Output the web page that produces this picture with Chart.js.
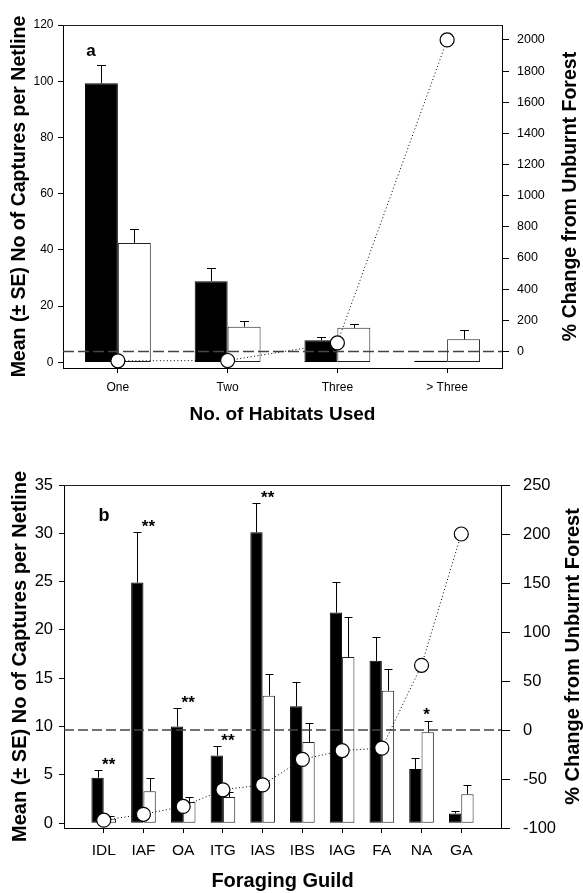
<!DOCTYPE html>
<html>
<head>
<meta charset="utf-8">
<script src="https://cdn.jsdelivr.net/npm/chart.js@4.4.1/dist/chart.umd.min.js"></script>
<style>
  html, body { margin: 0; padding: 0; background: #fff; }
  canvas { display: block; }
</style>
</head>
<body>
<canvas id="chart-a" width="583" height="440"></canvas>
<canvas id="chart-b" width="583" height="453"></canvas>
<script>
// panel a: habitats used
const habitats = ['One', 'Two', 'Three', '> Three'];
const unburntA = [99.3, 28.9, 7.9, 0.6];
const unburntSeA = [6.3, 4.7, 1.2, 0];
const burntA = [42.5, 12.7, 12.3, 8.2];
const burntSeA = [5.0, 2.0, 1.5, 3.3];
const changeA = [-60, -58, 55, 2000];
const leftTicksA = [0, 20, 40, 60, 80, 100, 120];
const rightTicksA = [0, 200, 400, 600, 800, 1000, 1200, 1400, 1600, 1800, 2000];

// panel b: foraging guild
const guilds = ['IDL', 'IAF', 'OA', 'ITG', 'IAS', 'IBS', 'IAG', 'FA', 'NA', 'GA'];
const unburntB = [4.7, 24.9, 10.0, 7.0, 30.1, 12.1, 21.8, 16.8, 5.6, 1.0];
const unburntSeB = [0.8, 5.2, 1.9, 1.0, 3.0, 2.5, 3.2, 2.5, 1.1, 0.3];
const burntB = [0.45, 3.3, 2.2, 2.7, 13.2, 8.4, 17.2, 13.7, 9.4, 3.0];
const burntSeB = [0.25, 1.4, 0.5, 0.5, 2.2, 2.0, 4.1, 2.3, 1.2, 0.9];
const changeB = [-92, -86, -78, -61, -56, -30, -21, -18.5, 66, 200];
const starsB = ['**', '**', '**', '**', '**', '', '', '', '*', ''];
const leftTicksB = [0, 5, 10, 15, 20, 25, 30, 35];
const rightTicksB = [-100, -50, 0, 50, 100, 150, 200, 250];

const FONT = "'Liberation Sans', Arial, Helvetica, sans-serif";
Chart.defaults.font.family = FONT;
Chart.defaults.color = '#000';

const setTicks = values => scale => {
  scale.ticks = values.map(value => ({ value }));
};
const plain = v => String(v);

// error bars, 0% line, frame, right title, panel letter, stars
const overlay = spec => ({
  id: 'overlay',
  beforeDatasetDraw(chart, args) {
    if (args.meta.type !== 'line') return;
    const { ctx, chartArea } = chart;
    const y = chart.scales.y;
    ctx.save();
    ctx.strokeStyle = '#000';
    ctx.lineWidth = 1;
    spec.errors.forEach((se, di) => {
      chart.getDatasetMeta(di).data.forEach((bar, i) => {
        if (!se[i]) return;
        const x = Math.round(bar.x) + 0.5;
        const top = Math.round(y.getPixelForValue(spec.means[di][i] + se[i])) + 0.5;
        ctx.beginPath();
        ctx.moveTo(x, bar.y);
        ctx.lineTo(x, top);
        ctx.moveTo(x - spec.cap, top);
        ctx.lineTo(x + spec.cap, top);
        ctx.stroke();
      });
    });
    const ref = chart.scales.y1.getPixelForValue(0);
    ctx.strokeStyle = '#444';
    ctx.lineWidth = 1.3;
    ctx.setLineDash(spec.dash);
    ctx.beginPath();
    ctx.moveTo(chartArea.left, ref);
    ctx.lineTo(chartArea.right, ref);
    ctx.stroke();
    ctx.restore();
  },
  afterDraw(chart) {
    const { ctx, chartArea } = chart;
    const y = chart.scales.y;
    ctx.save();
    ctx.strokeStyle = '#222';
    ctx.lineWidth = 1;
    ctx.beginPath();
    ctx.moveTo(chartArea.left, Math.round(chartArea.top) + 0.5);
    ctx.lineTo(chartArea.right, Math.round(chartArea.top) + 0.5);
    ctx.stroke();

    ctx.fillStyle = '#000';
    ctx.textAlign = 'center';
    ctx.textBaseline = 'middle';

    ctx.save();
    ctx.translate(spec.rightTitleX, (chartArea.top + chartArea.bottom) / 2);
    ctx.rotate(-Math.PI / 2);
    ctx.font = `bold ${spec.titleSize}px ${FONT}`;
    ctx.fillText('% Change from Unburnt Forest', 0, 0);
    ctx.restore();

    ctx.font = `bold ${spec.letterSize}px ${FONT}`;
    ctx.fillText(spec.letter, chartArea.left + spec.letterAt[0], chartArea.top + spec.letterAt[1]);

    if (spec.stars) {
      const points = chart.getDatasetMeta(2).data;
      ctx.font = `bold 17px ${FONT}`;
      spec.stars.forEach((s, i) => {
        if (!s) return;
        const top = Math.max(...spec.means.map((m, di) => m[i] + spec.errors[di][i]));
        ctx.fillText(s, points[i].x + 5, y.getPixelForValue(top) - 5);
      });
    }
    ctx.restore();
  }
});

const lineStyle = {
  type: 'line',
  yAxisID: 'y1',
  order: -1,
  clip: false,
  borderColor: '#000',
  borderWidth: 1,
  borderDash: [1, 2.5],
  pointRadius: 7,
  pointBackgroundColor: '#fff',
  pointBorderColor: '#000',
  pointBorderWidth: 1.2
};

const blackBar = { backgroundColor: '#000', borderColor: '#000', borderWidth: 1, borderSkipped: false };
const whiteBar = { backgroundColor: '#fff', borderColor: '#222', borderWidth: 1, borderSkipped: false };

const baseOptions = {
  responsive: false,
  animation: false,
  devicePixelRatio: 1,
  plugins: { legend: { display: false }, tooltip: { enabled: false } }
};

new Chart(document.getElementById('chart-a'), {
  type: 'bar',
  data: {
    labels: habitats,
    datasets: [
      { ...blackBar, data: unburntA },
      { ...whiteBar, data: burntA },
      { ...lineStyle, data: changeA }
    ]
  },
  options: {
    ...baseOptions,
    layout: { padding: { top: 25, left: 0, right: 0, bottom: 0 } },
    datasets: { bar: { categoryPercentage: 0.6, barPercentage: 1 } },
    scales: {
      x: {
        offset: true,
        afterFit: s => { s.height = 72; },
        border: { color: '#000' },
        grid: { drawOnChartArea: false, offset: false, tickLength: 5, color: '#000' },
        ticks: { padding: 7, font: { size: 12 }, maxRotation: 0 },
        title: {
          display: true, text: 'No. of Habitats Used',
          font: { size: 19, weight: 'bold' }, padding: { top: 0, bottom: 13.5 }
        }
      },
      y: {
        position: 'left',
        min: -2, max: 120,
        afterBuildTicks: setTicks(leftTicksA),
        afterFit: s => { s.width = 63; },
        border: { color: '#000' },
        grid: { drawOnChartArea: false, tickLength: 5, color: '#000' },
        ticks: { padding: 4.5, font: { size: 12 }, callback: plain },
        title: {
          display: true, text: 'Mean (± SE) No of Captures per Netline',
          font: { size: 19.5, weight: 'bold' }, padding: { top: 8.3, bottom: 0 }
        }
      },
      y1: {
        position: 'right',
        min: -106, max: 2096,
        afterBuildTicks: setTicks(rightTicksA),
        afterFit: s => { s.width = 81; },
        border: { color: '#000' },
        grid: { drawOnChartArea: false, tickLength: 7, color: '#000' },
        ticks: { padding: 8, font: { size: 12.5 }, callback: plain }
      }
    }
  },
  plugins: [overlay({
    means: [unburntA, burntA], errors: [unburntSeA, burntSeA],
    cap: 4.5, dash: [11, 4], rightTitleX: 571, titleSize: 19.5,
    letter: 'a', letterSize: 17, letterAt: [28, 26]
  })]
});

const xy = values => values.map((v, i) => ({ x: i + 1, y: v }));

new Chart(document.getElementById('chart-b'), {
  type: 'bar',
  data: {
    datasets: [
      { ...blackBar, data: xy(unburntB) },
      { ...whiteBar, data: xy(burntB) },
      { ...lineStyle, data: xy(changeB) }
    ]
  },
  options: {
    ...baseOptions,
    layout: { padding: { top: 45, left: 0, right: 0, bottom: 0 } },
    datasets: { bar: { categoryPercentage: 0.62, barPercentage: 1 } },
    scales: {
      x: {
        type: 'linear',
        min: 0, max: guilds.length + 1,
        offset: false,
        afterBuildTicks: setTicks(guilds.map((g, i) => i + 1)),
        afterFit: s => { s.height = 65; },
        border: { color: '#000' },
        grid: { drawOnChartArea: false, offset: false, tickLength: 5, color: '#000' },
        ticks: {
          padding: 8.4, font: { size: 15.5 }, maxRotation: 0, autoSkip: false,
          callback: v => guilds[v - 1] ?? ''
        },
        title: {
          display: true, text: 'Foraging Guild',
          font: { size: 20, weight: 'bold' }, padding: { top: 0, bottom: 0 }
        }
      },
      y: {
        position: 'left',
        min: -0.5, max: 35,
        afterBuildTicks: setTicks(leftTicksB),
        afterFit: s => { s.width = 64; },
        border: { color: '#000' },
        grid: { drawOnChartArea: false, tickLength: 5, color: '#000' },
        ticks: { padding: 6, font: { size: 16.5 }, callback: plain },
        title: {
          display: true, text: 'Mean (± SE) No of Captures per Netline',
          font: { size: 20, weight: 'bold' }, padding: { top: 8, bottom: 0 }
        }
      },
      y1: {
        position: 'right',
        min: -100, max: 250,
        afterBuildTicks: setTicks(rightTicksB),
        afterFit: s => { s.width = 82; },
        border: { color: '#000' },
        grid: { drawOnChartArea: false, tickLength: 9, color: '#000' },
        ticks: { padding: 13, font: { size: 16.5 }, callback: plain }
      }
    }
  },
  plugins: [overlay({
    means: [unburntB, burntB], errors: [unburntSeB, burntSeB], stars: starsB,
    cap: 4, dash: [10, 4], rightTitleX: 573, titleSize: 20,
    letter: 'b', letterSize: 18, letterAt: [40, 31]
  })]
});
</script>
</body>
</html>
